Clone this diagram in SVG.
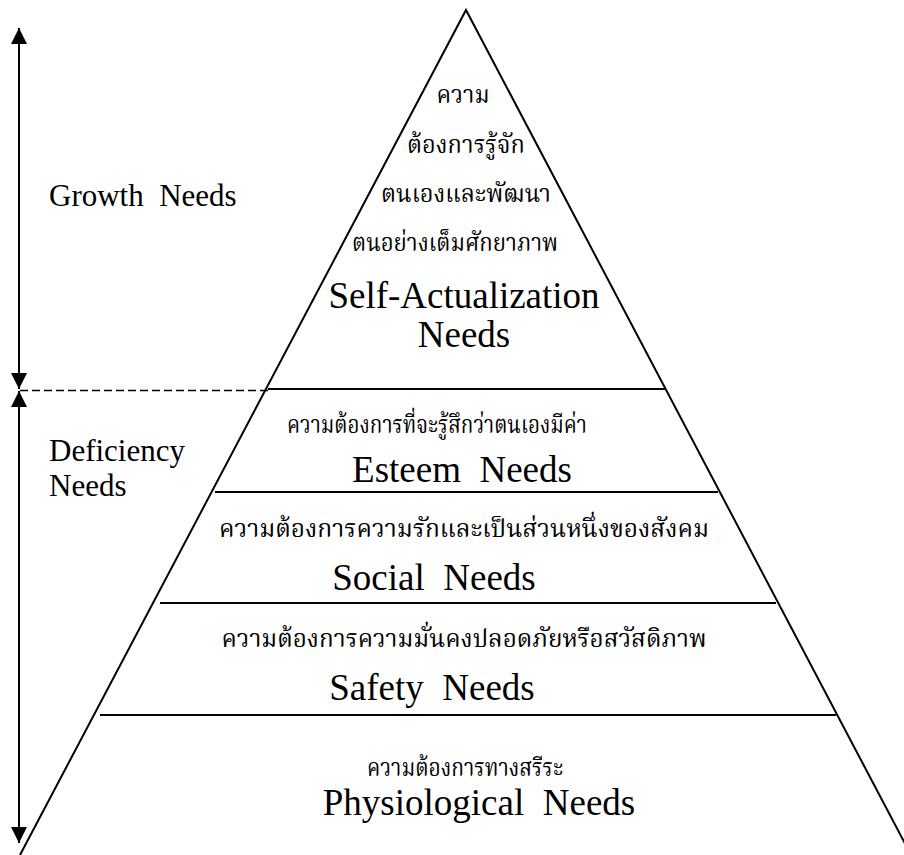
<svg xmlns="http://www.w3.org/2000/svg" width="904" height="855" viewBox="0 0 904 855">
<defs>
<style>
.ln{stroke:#000;stroke-width:2;fill:none}
.en{font-family:'Liberation Serif','Times New Roman',serif;font-size:37px;fill:#000;text-anchor:middle}
.side{font-family:'Liberation Serif','Times New Roman',serif;font-size:31px;fill:#000}
.th{font-family:'Liberation Serif','Noto Serif Thai','Noto Sans Thai','DejaVu Sans',serif;font-size:24px;fill:#000;text-anchor:middle}
</style>
<marker id="ah" viewBox="0 0 16 16" refX="16" refY="8" markerWidth="16" markerHeight="16" markerUnits="userSpaceOnUse" orient="auto">
<path d="M0,0 L16,8 L0,16 Z" fill="#000"/>
</marker>
</defs>
<rect width="904" height="855" fill="#fff"/>
<g id="pyramid">
<polyline class="ln" points="20,855 466,10 911,855"/>
</g>
<g id="connectors">
<line class="ln" x1="19" y1="200" x2="19" y2="28" marker-end="url(#ah)"/>
<line class="ln" x1="19" y1="200" x2="19" y2="389" marker-end="url(#ah)"/>
<line class="ln" x1="19" y1="600" x2="19" y2="391" marker-end="url(#ah)"/>
<line class="ln" x1="19" y1="600" x2="19" y2="843" marker-end="url(#ah)"/>
<line x1="20" y1="390.5" x2="268" y2="390.5" stroke="#000" stroke-width="1.5" stroke-dasharray="8,4"/>
<line class="ln" x1="268" y1="389" x2="665" y2="389"/>
<line class="ln" x1="215" y1="492" x2="718" y2="492"/>
<line class="ln" x1="160" y1="603" x2="776" y2="603"/>
<line class="ln" x1="100" y1="715" x2="836" y2="715"/>
</g>
<g id="growth-label">
<text class="side" x="49" y="206" xml:space="preserve">Growth  Needs</text>
</g>
<g id="deficiency-label">
<text class="side" x="49" y="461">Deficiency</text>
<text class="side" x="49" y="496">Needs</text>
</g>
<g id="self-actualization">
<text class="th" x="463" y="103" textLength="53" lengthAdjust="spacingAndGlyphs">ความ</text>
<text class="th" x="466" y="153" textLength="118" lengthAdjust="spacingAndGlyphs">ต้องการรู้จัก</text>
<text class="th" x="466" y="202" textLength="170" lengthAdjust="spacingAndGlyphs">ตนเองและพัฒนา</text>
<text class="th" x="455" y="251" textLength="206" lengthAdjust="spacingAndGlyphs">ตนอย่างเต็มศักยาภาพ</text>
<text class="en" x="464" y="308">Self-Actualization</text>
<text class="en" x="464" y="347">Needs</text>
</g>
<g id="esteem">
<text class="th" x="437" y="433" textLength="300" lengthAdjust="spacingAndGlyphs">ความต้องการที่จะรู้สึกว่าตนเองมีค่า</text>
<text class="en" x="462" y="482" xml:space="preserve">Esteem  Needs</text>
</g>
<g id="social">
<text class="th" x="464" y="537" textLength="490" lengthAdjust="spacingAndGlyphs">ความต้องการความรักและเป็นส่วนหนึ่งของสังคม</text>
<text class="en" x="434" y="590" xml:space="preserve">Social  Needs</text>
</g>
<g id="safety">
<text class="th" x="464" y="647" textLength="485" lengthAdjust="spacingAndGlyphs">ความต้องการความมั่นคงปลอดภัยหรือสวัสดิภาพ</text>
<text class="en" x="432" y="700" xml:space="preserve">Safety  Needs</text>
</g>
<g id="physiological">
<text class="th" x="465" y="776" textLength="196" lengthAdjust="spacingAndGlyphs">ความต้องการทางสรีระ</text>
<text class="en" x="479" y="815" xml:space="preserve">Physiological  Needs</text>
</g>
</svg>
